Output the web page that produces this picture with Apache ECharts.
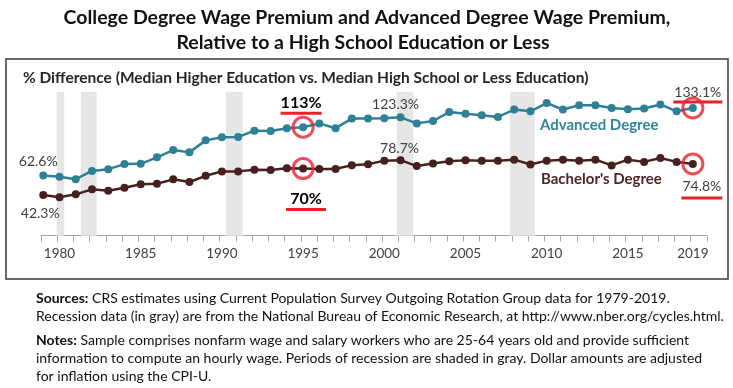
<!DOCTYPE html>
<html>
<head>
<meta charset="utf-8">
<script src="https://cdn.jsdelivr.net/npm/echarts@6/dist/echarts.min.js"></script>
<style>
html,body{margin:0;padding:0;background:#fff;}
#chart{width:733px;height:388px;}
</style>
</head>
<body>
<div id="chart"></div>
<script>
const years = [1979,1980,1981,1982,1983,1984,1985,1986,1987,1988,1989,1990,1991,1992,1993,1994,1995,1996,1997,1998,1999,2000,2001,2002,2003,2004,2005,2006,2007,2008,2009,2010,2011,2012,2013,2014,2015,2016,2017,2018,2019];
const advanced = [62.6,61.3,58.9,67.5,69.3,74.6,74.9,81.6,89.2,86.8,99.3,102.5,102.8,109.4,109.0,112.0,113.0,117.0,112.0,122.0,122.0,122.3,123.3,117.0,119.5,128.8,127.0,125.5,123.7,131.4,129.6,138.2,131.4,135.9,135.9,133.1,131.7,132.5,136.7,129.6,133.1];
const bachelor = [42.3,40.0,43.1,48.3,46.8,49.9,53.5,54.1,58.7,55.9,62.4,67.0,67.0,68.7,68.5,70.3,70.0,69.5,69.5,73.5,74.5,78.2,78.7,72.5,75.3,77.5,78.7,78.2,78.2,79.2,74.2,78.2,79.2,78.2,79.2,73.2,79.2,76.9,81.0,76.9,74.8];
const recessions = [[1979.83,1980.29],[1981.32,1982.29],[1990.25,1991.28],[2000.76,2001.78],[2007.74,2009.26]];
const tickLabels = [1980,1985,1990,1995,2000,2005,2010,2015,2019];
const circledYears = [1995, 2019];

const TEAL = '#2E8096';
const BROWN = '#45201F';
const RED = '#E8202A';
const GRAYTXT = '#404040';
const FONT = 'Lato';

function plainLabel(text, dx, dy) {
  return {show:true, position:'inside', offset:[dx,dy], formatter:text,
    color:GRAYTXT, fontFamily:FONT, fontSize:14, fontWeight:'normal'};
}
function ulLabel(text, dx, dy, bold, w, lh) {
  return {show:true, position:'inside', offset:[dx,dy], formatter:'{t|'+text+'}\n{u|}',
    rich:{
      t:{color: bold ? '#000' : GRAYTXT, fontFamily:FONT, fontSize: bold?16:14, fontWeight: bold?'bold':'normal', lineHeight: lh, align:'center'},
      u:{width:w, height:3, lineHeight:3, backgroundColor:RED, align:'center'}
    }};
}
const advLabels = {
  1979: plainLabel('62.6%', -5, -14),
  1995: ulLabel('113%', -2, -23, true, 41, 18),
  2001: plainLabel('123.3%', -5, -13),
  2019: ulLabel('133.1%', 5, -14, false, 49, 16)
};
const bachLabels = {
  1979: plainLabel('42.3%', -3, 18),
  1995: ulLabel('70%', 3, 32, true, 40, 18),
  2001: plainLabel('78.7%', -1, -12),
  2019: ulLabel('74.8%', 9, 24, false, 41, 20)
};

function buildData(vals, labels) {
  return years.map((y,i) => {
    const item = {value:[y, vals[i]]};
    if (labels[y]) item.label = labels[y];
    return item;
  });
}

const circleData = [];
circledYears.forEach(y => {
  const i = years.indexOf(y);
  circleData.push([y, advanced[i]]);
  circleData.push([y, bachelor[i]]);
});

const tickVals = years.map(y => y - 0.14).concat([years[years.length-1] + 0.86]);

const chart = echarts.init(document.getElementById('chart'), null, {renderer:'canvas'});
const option = {
  animation:false,
  backgroundColor:'#fff',
  grid:{left:41, top:91.7, width:665.8, height:144},
  xAxis:{
    type:'value', min:1978.86, max:2019.86,
    axisLine:{show:true, lineStyle:{color:'#A6A6A6', width:1}},
    axisTick:{show:true, length:6, lineStyle:{color:'#A6A6A6'}, customValues:tickVals},
    axisLabel:{show:true, customValues:tickLabels, formatter: v => String(Math.round(v)),
      color:GRAYTXT, fontFamily:FONT, fontSize:13.5, margin:11},
    splitLine:{show:false}
  },
  yAxis:{type:'value', min:0, max:150, show:false, splitLine:{show:false}},
  series:[
    {
      type:'line', name:'recessions', data:[], silent:true,
      markArea:{silent:true, itemStyle:{color:'#E6E6E6'},
        data: recessions.map(r => [{xAxis:r[0]},{xAxis:r[1]}])}
    },
    {
      type:'line', name:'Advanced Degree', data:buildData(advanced, advLabels),
      symbol:'circle', symbolSize:8, lineStyle:{color:TEAL, width:2.5},
      itemStyle:{color:TEAL}, z:3
    },
    {
      type:'line', name:"Bachelor's Degree", data:buildData(bachelor, bachLabels),
      symbol:'circle', symbolSize:8, lineStyle:{color:BROWN, width:2.5},
      itemStyle:{color:BROWN}, z:3
    },
    {
      type:'scatter', data:circleData, symbol:'circle', symbolSize:20, silent:true,
      itemStyle:{color:'rgba(0,0,0,0)', borderColor:RED, borderWidth:3}, z:4
    }
  ],
  graphic:[
    {type:'rect', shape:{x:6, y:59, width:722, height:220}, style:{fill:'none', stroke:'#3a3a3a', lineWidth:1.5}, silent:true},
    {type:'text', x:367, y:18, style:{text:'College Degree Wage Premium and Advanced Degree Wage Premium,', font:'bold 19.5px Lato', fill:'#111', align:'center', verticalAlign:'middle'}},
    {type:'text', x:363, y:43, style:{text:'Relative to a High School Education or Less', font:'bold 19.5px Lato', fill:'#111', align:'center', verticalAlign:'middle'}},
    {type:'text', x:23, y:78, style:{text:'% Difference (Median Higher Education vs. Median High School or Less Education)', font:'bold 15.5px Lato', fill:'#262626', align:'left', verticalAlign:'middle'}},
    {type:'text', x:540, y:125, style:{text:'Advanced Degree', font:'bold 15px Lato', fill:'#31849B', align:'left', verticalAlign:'middle'}},
    {type:'text', x:541, y:179, style:{text:"Bachelor's Degree", font:'bold 15px Lato', fill:'#4F2626', align:'left', verticalAlign:'middle'}},
    {type:'text', x:36, y:298, style:{text:'{b|Sources:} CRS estimates using Current Population Survey Outgoing Rotation Group data for 1979-2019.', font:'14px Lato', fill:'#111', verticalAlign:'middle', rich:{b:{font:'bold 14px Lato', fill:'#111'}}}},
    {type:'text', x:36, y:316, style:{text:'Recession data (in gray) are from the National Bureau of Economic Research, at http://www.nber.org/cycles.html.', font:'14px Lato', fill:'#111', verticalAlign:'middle'}},
    {type:'text', x:36, y:340, style:{text:'{b|Notes:} Sample comprises nonfarm wage and salary workers who are 25-64 years old and provide sufficient', font:'14px Lato', fill:'#111', verticalAlign:'middle', rich:{b:{font:'bold 14px Lato', fill:'#111'}}}},
    {type:'text', x:36, y:358, style:{text:'information to compute an hourly wage. Periods of recession are shaded in gray. Dollar amounts are adjusted', font:'14px Lato', fill:'#111', verticalAlign:'middle'}},
    {type:'text', x:36, y:376, style:{text:'for inflation using the CPI-U.', font:'14px Lato', fill:'#111', verticalAlign:'middle'}}
  ]
};
chart.setOption(option);
</script>
</body>
</html>
